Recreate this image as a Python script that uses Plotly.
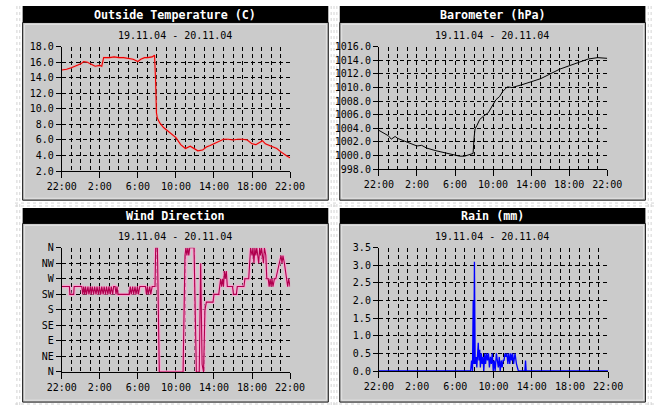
import plotly.graph_objects as go
import pandas as pd

W, H = 669, 411
BASE = pd.Timestamp("2004-11-19 22:00")

# ---------------- data (hours after 19.11.04 22:00) ----------------
temp_hours = [0, 0.5, 1, 1.5, 2, 2.3, 2.7, 3, 3.5, 4, 4.2, 4.4, 5, 5.5, 6, 6.5, 7, 7.5,
              8, 8.3, 8.7, 9, 9.5, 9.75, 9.85, 9.95, 10.05, 10.3, 10.7, 11, 11.5, 12,
              12.5, 13, 13.5, 13.8, 14.3, 14.8, 15.2, 15.6, 16, 16.5, 17, 17.5, 18,
              18.5, 19, 19.5, 20, 20.4, 20.8, 21.1, 21.4, 21.8, 22.2, 22.6, 23.0,
              23.4, 23.7, 24]
temp_values = [15.0, 15.1, 15.3, 15.5, 15.8, 16.1, 16.0, 15.8, 15.5, 15.6, 15.5, 16.6,
               16.6, 16.7, 16.6, 16.6, 16.5, 16.4, 16.1, 16.4, 16.6, 16.6, 16.7, 16.9,
               14.0, 9.5, 8.8, 8.2, 7.6, 7.3, 6.9, 6.3, 5.4, 4.9, 5.2, 5.0, 4.6, 4.7,
               5.1, 5.3, 5.5, 5.8, 6.1, 6.1, 6.0, 6.1, 6.1, 6.0, 5.5, 5.4, 5.7, 5.9,
               5.5, 5.3, 5.2, 4.9, 4.5, 4.1, 3.9, 3.7]

baro_hours = [0, 0.5, 1, 1.3, 1.7, 2, 3, 4, 4.5, 5, 6, 7, 8, 8.5, 9, 9.3, 9.7, 9.9,
              10.0, 10.1, 10.3, 10.6, 11, 11.5, 12, 12.3, 12.7, 13, 13.5, 14, 15, 16,
              17, 18, 19, 20, 21, 22, 23, 24]
baro_values = [1003.7, 1003.3, 1002.9, 1002.4, 1002.8, 1002.5, 1002.0, 1001.4, 1001.5,
               1001.1, 1000.7, 1000.4, 1000.1, 999.9, 999.9, 1000.0, 1000.2, 1000.3,
               1002.5, 1003.9, 1004.4, 1005.3, 1005.8, 1006.3, 1007.5, 1008.2, 1008.7,
               1009.4, 1010.1, 1010.0, 1010.4, 1010.8, 1011.3, 1012.0, 1012.7, 1013.2,
               1013.7, 1014.2, 1014.4, 1014.3]

wind_hours = [0.0, 0.8, 0.85, 1.25, 1.3, 2.1, 2.2, 2.3, 2.4, 2.5, 2.6, 2.75, 2.85, 3.0,
              3.1, 3.2, 3.35, 3.45, 3.6, 3.7, 3.85, 3.95, 4.1, 4.2, 4.35, 4.45, 4.6,
              4.7, 4.85, 4.95, 5.1, 5.2, 5.35, 5.45, 5.6, 5.7, 5.8, 5.9, 6.1, 7.1, 7.2,
              7.3, 7.45, 7.55, 7.7, 7.8, 7.95, 8.05, 8.2, 8.8, 8.9, 9.0, 9.1, 9.25,
              9.35, 9.5, 9.8, 9.87, 10.05, 10.25, 12.75, 12.95, 13.05, 13.15, 13.25,
              13.35, 13.45, 13.9, 14.15, 14.45, 14.6, 14.75, 14.9, 15.05, 15.2, 15.9,
              16.0, 16.5, 16.6, 16.7, 16.8, 16.9, 17.0, 17.1, 17.2, 17.3, 17.4, 17.95,
              18.05, 18.35, 18.45, 19.15, 19.25, 19.65, 19.75, 19.85, 20.0, 20.1, 20.2,
              20.3, 20.4, 20.5, 20.6, 20.7, 20.8, 20.9, 21.0, 21.1, 21.2, 21.3, 21.45,
              21.55, 21.7, 21.8, 21.9, 22.0, 22.1, 22.2, 22.35, 22.5, 22.7, 22.9,
              23.05, 23.15, 23.25, 23.4, 23.6, 23.75, 23.85, 24.0]
wind_degrees = [247.5, 247.5, 225, 225, 247.5, 247.5, 225, 247.5, 225, 247.5, 225, 247.5,
                225, 247.5, 225, 247.5, 225, 247.5, 225, 247.5, 225, 247.5, 225, 247.5,
                225, 247.5, 225, 247.5, 225, 247.5, 225, 247.5, 225, 247.5, 247.5, 225,
                247.5, 225, 225, 225, 247.5, 225, 247.5, 225, 247.5, 225, 247.5, 225,
                247.5, 247.5, 225, 247.5, 225, 247.5, 225, 247.5, 247.5, 360, 360, 0, 0,
                337.5, 360, 337.5, 360, 337.5, 360, 360, 0, 0, 315, 22.5, 0, 180, 202.5,
                202.5, 225, 225, 247.5, 270, 247.5, 270, 247.5, 292.5, 270, 292.5, 247.5,
                247.5, 225, 225, 247.5, 247.5, 270, 270, 315, 360, 337.5, 360, 315, 360,
                337.5, 360, 337.5, 315, 360, 337.5, 360, 337.5, 315, 360, 337.5, 270,
                270, 247.5, 270, 247.5, 270, 247.5, 270, 270, 292.5, 315, 337.5, 315,
                337.5, 315, 270, 247.5, 270, 247.5]

rain_hours = [0, 9.6, 9.7, 9.8, 9.87, 9.93, 10.0, 10.08, 10.17, 10.25, 10.4, 10.47, 10.55,
              10.62, 10.72, 10.8, 10.9, 10.98, 11.08, 11.17, 11.27, 11.37, 11.47, 11.57,
              11.67, 11.77, 11.87, 11.97, 12.07, 12.17, 12.3, 12.4, 12.5, 12.6, 12.7,
              12.8, 12.9, 13.0, 13.1, 13.2, 13.3, 13.4, 13.5, 13.6, 13.7, 13.8, 13.9,
              14.0, 14.1, 14.25, 14.4, 14.6, 15.28, 15.35, 15.42, 24]
rain_values = [0, 0, 0.3, 0.0, 2.0, 0.2, 3.1, 0.2, 0.4, 0.1, 0.8, 0.3, 0.6, 0.1, 0.5, 0.2,
               0.4, 0.0, 0.5, 0.2, 0.5, 0.3, 0.5, 0.1, 0.4, 0.2, 0.5, 0.0, 0.3, 0.0, 0.5,
               0.3, 0.1, 0.4, 0.0, 0.3, 0.1, 0.3, 0.3, 0.5, 0.4, 0.5, 0.2, 0.5, 0.2, 0.5,
               0.3, 0.5, 0.2, 0.5, 0.2, 0.0, 0.0, 0.3, 0.0, 0]

panel_titles = ["Outside Temperature (C)", "Barometer (hPa)", "Wind Direction", "Rain (mm)"]
date_label = "19.11.04 - 20.11.04"
wind_tick_values = [0, 45, 90, 135, 180, 225, 270, 315, 360]
wind_tick_labels = ["N", "NE", "E", "SE", "S", "SW", "W", "NW", "N"]

# ---------------- helpers ----------------
def px_x(px):
    return px / W

def px_y(py):
    return 1 - py / H

def times(hours):
    return [BASE + pd.Timedelta(hours=h) for h in hours]

MONO = "DejaVu Sans Mono"
GRID_DASH = "4px,3px"
PANEL_BG = "#cbcbcb"

# plot areas in px: (left, top, right, bottom)
areas = [(49, 42, 288, 170), (381, 42, 620, 168), (49, 249, 288, 377), (381, 249, 621, 376)]
# panels: (left, title_top, title_bottom, bottom, right)
panels = [(8, 0, 17, 200, 328), (340, 0, 17, 200, 660),
          (8, 208, 224, 408, 328), (340, 208, 224, 408, 660)]

fig = go.Figure()

def line_trace(xh, yv, color, width, idx):
    sfx = "" if idx == 1 else str(idx)
    return go.Scatter(x=times(xh), y=yv, mode="lines",
                      line=dict(color=color, width=width),
                      xaxis="x" + sfx, yaxis="y" + sfx,
                      hoverinfo="skip", showlegend=False)

fig.add_trace(line_trace(temp_hours, temp_values, "rgba(255,150,150,0.35)", 2.6, 1))
fig.add_trace(line_trace(temp_hours, temp_values, "#ee0000", 1.1, 1))
fig.add_trace(line_trace(baro_hours, baro_values, "#000000", 1.0, 2))
fig.add_trace(line_trace(wind_hours, wind_degrees, "rgba(255,160,210,0.8)", 3.4, 3))
fig.add_trace(line_trace(wind_hours, wind_degrees, "#b0004e", 1.1, 3))
fig.add_trace(line_trace(rain_hours, rain_values, "#0000ff", 1.3, 4))

t0 = BASE
t1 = BASE + pd.Timedelta(hours=24)

def xaxis_cfg(area, anchor):
    l, t, r, b = area
    return dict(domain=[px_x(l), px_x(r)], anchor=anchor,
                range=[t0, t1], type="date",
                tick0=t0, dtick=4 * 3600 * 1000, tickformat="%-H:%M",
                showgrid=True, gridcolor="black", gridwidth=1, griddash=GRID_DASH,
                minor=dict(dtick=3600 * 1000, tick0=t0, showgrid=True, gridcolor="black",
                           gridwidth=1, griddash=GRID_DASH, ticks=""),
                showline=True, linecolor="black", linewidth=1,
                ticks="outside", ticklen=6, tickcolor="black", tickwidth=1,
                tickfont=dict(family=MONO, size=10, color="black"),
                zeroline=False, fixedrange=True)

def yaxis_cfg(area, anchor, rng, **kw):
    l, t, r, b = area
    d = dict(domain=[px_y(b), px_y(t)], anchor=anchor, range=rng,
             showgrid=True, gridcolor="black", gridwidth=1, griddash=GRID_DASH,
             showline=True, linecolor="black", linewidth=1,
             ticks="outside", ticklen=5, tickcolor="black", tickwidth=1,
             tickfont=dict(family=MONO, size=10, color="black"),
             zeroline=False, fixedrange=True)
    d.update(kw)
    return d

fig.update_layout(
    width=W, height=H, margin=dict(l=0, r=0, t=0, b=0),
    paper_bgcolor="white", plot_bgcolor="rgba(0,0,0,0)",
    xaxis=xaxis_cfg(areas[0], "y"),
    xaxis2=xaxis_cfg(areas[1], "y2"),
    xaxis3=xaxis_cfg(areas[2], "y3"),
    xaxis4=xaxis_cfg(areas[3], "y4"),
    yaxis=yaxis_cfg(areas[0], "x", [2, 18], dtick=2, tick0=2, tickformat=".1f"),
    yaxis2=yaxis_cfg(areas[1], "x2", [998, 1016], dtick=2, tick0=998, tickformat=".1f"),
    yaxis3=yaxis_cfg(areas[2], "x3", [0, 360], tickmode="array",
                     tickvals=wind_tick_values, ticktext=wind_tick_labels),
    yaxis4=yaxis_cfg(areas[3], "x4", [0, 3.5], dtick=0.5, tick0=0, tickformat=".1f"),
)

shapes = []
annotations = []
# dotted background pattern
for xv in [2, 5, 331, 334, 337, 663, 666]:
    shapes.append(dict(type="line", xref="paper", yref="paper", x0=px_x(xv), x1=px_x(xv),
                       y0=0, y1=1, line=dict(color="#d4d4d4", width=1, dash="dot"),
                       layer="below"))
for yv in [203, 206, 410]:
    shapes.append(dict(type="line", xref="paper", yref="paper", x0=0, x1=1,
                       y0=px_y(yv), y1=px_y(yv), line=dict(color="#d4d4d4", width=1, dash="dot"),
                       layer="below"))

for i, (l, tt, tb, b, r) in enumerate(panels):
    shapes.append(dict(type="rect", xref="paper", yref="paper",
                       x0=px_x(l), x1=px_x(r), y0=px_y(b), y1=px_y(tb),
                       fillcolor=PANEL_BG, line=dict(color="#111111", width=1), layer="below"))
    shapes.append(dict(type="rect", xref="paper", yref="paper",
                       x0=px_x(l + 2), x1=px_x(r - 2), y0=px_y(b - 2), y1=px_y(tb + 2),
                       fillcolor="rgba(0,0,0,0)", line=dict(color="#e2e2e2", width=1),
                       layer="below"))
    shapes.append(dict(type="rect", xref="paper", yref="paper",
                       x0=px_x(l), x1=px_x(r), y0=px_y(tb), y1=px_y(tt),
                       fillcolor="black", line=dict(width=0), layer="below"))
    cx = (l + r) / 2
    annotations.append(dict(text="<b>" + panel_titles[i] + "</b>", xref="paper", yref="paper",
                            x=px_x(cx), y=px_y((tt + tb) / 2 + 0.5), xanchor="center",
                            yanchor="middle", showarrow=False,
                            font=dict(family=MONO, size=11.7, color="white")))
    annotations.append(dict(text=date_label, xref="paper", yref="paper",
                            x=px_x(cx - 1), y=px_y(tb + 13), xanchor="center",
                            yanchor="middle", showarrow=False,
                            font=dict(family=MONO, size=10, color="black")))

fig.update_layout(shapes=shapes, annotations=annotations)
fig.write_html("out.html")
